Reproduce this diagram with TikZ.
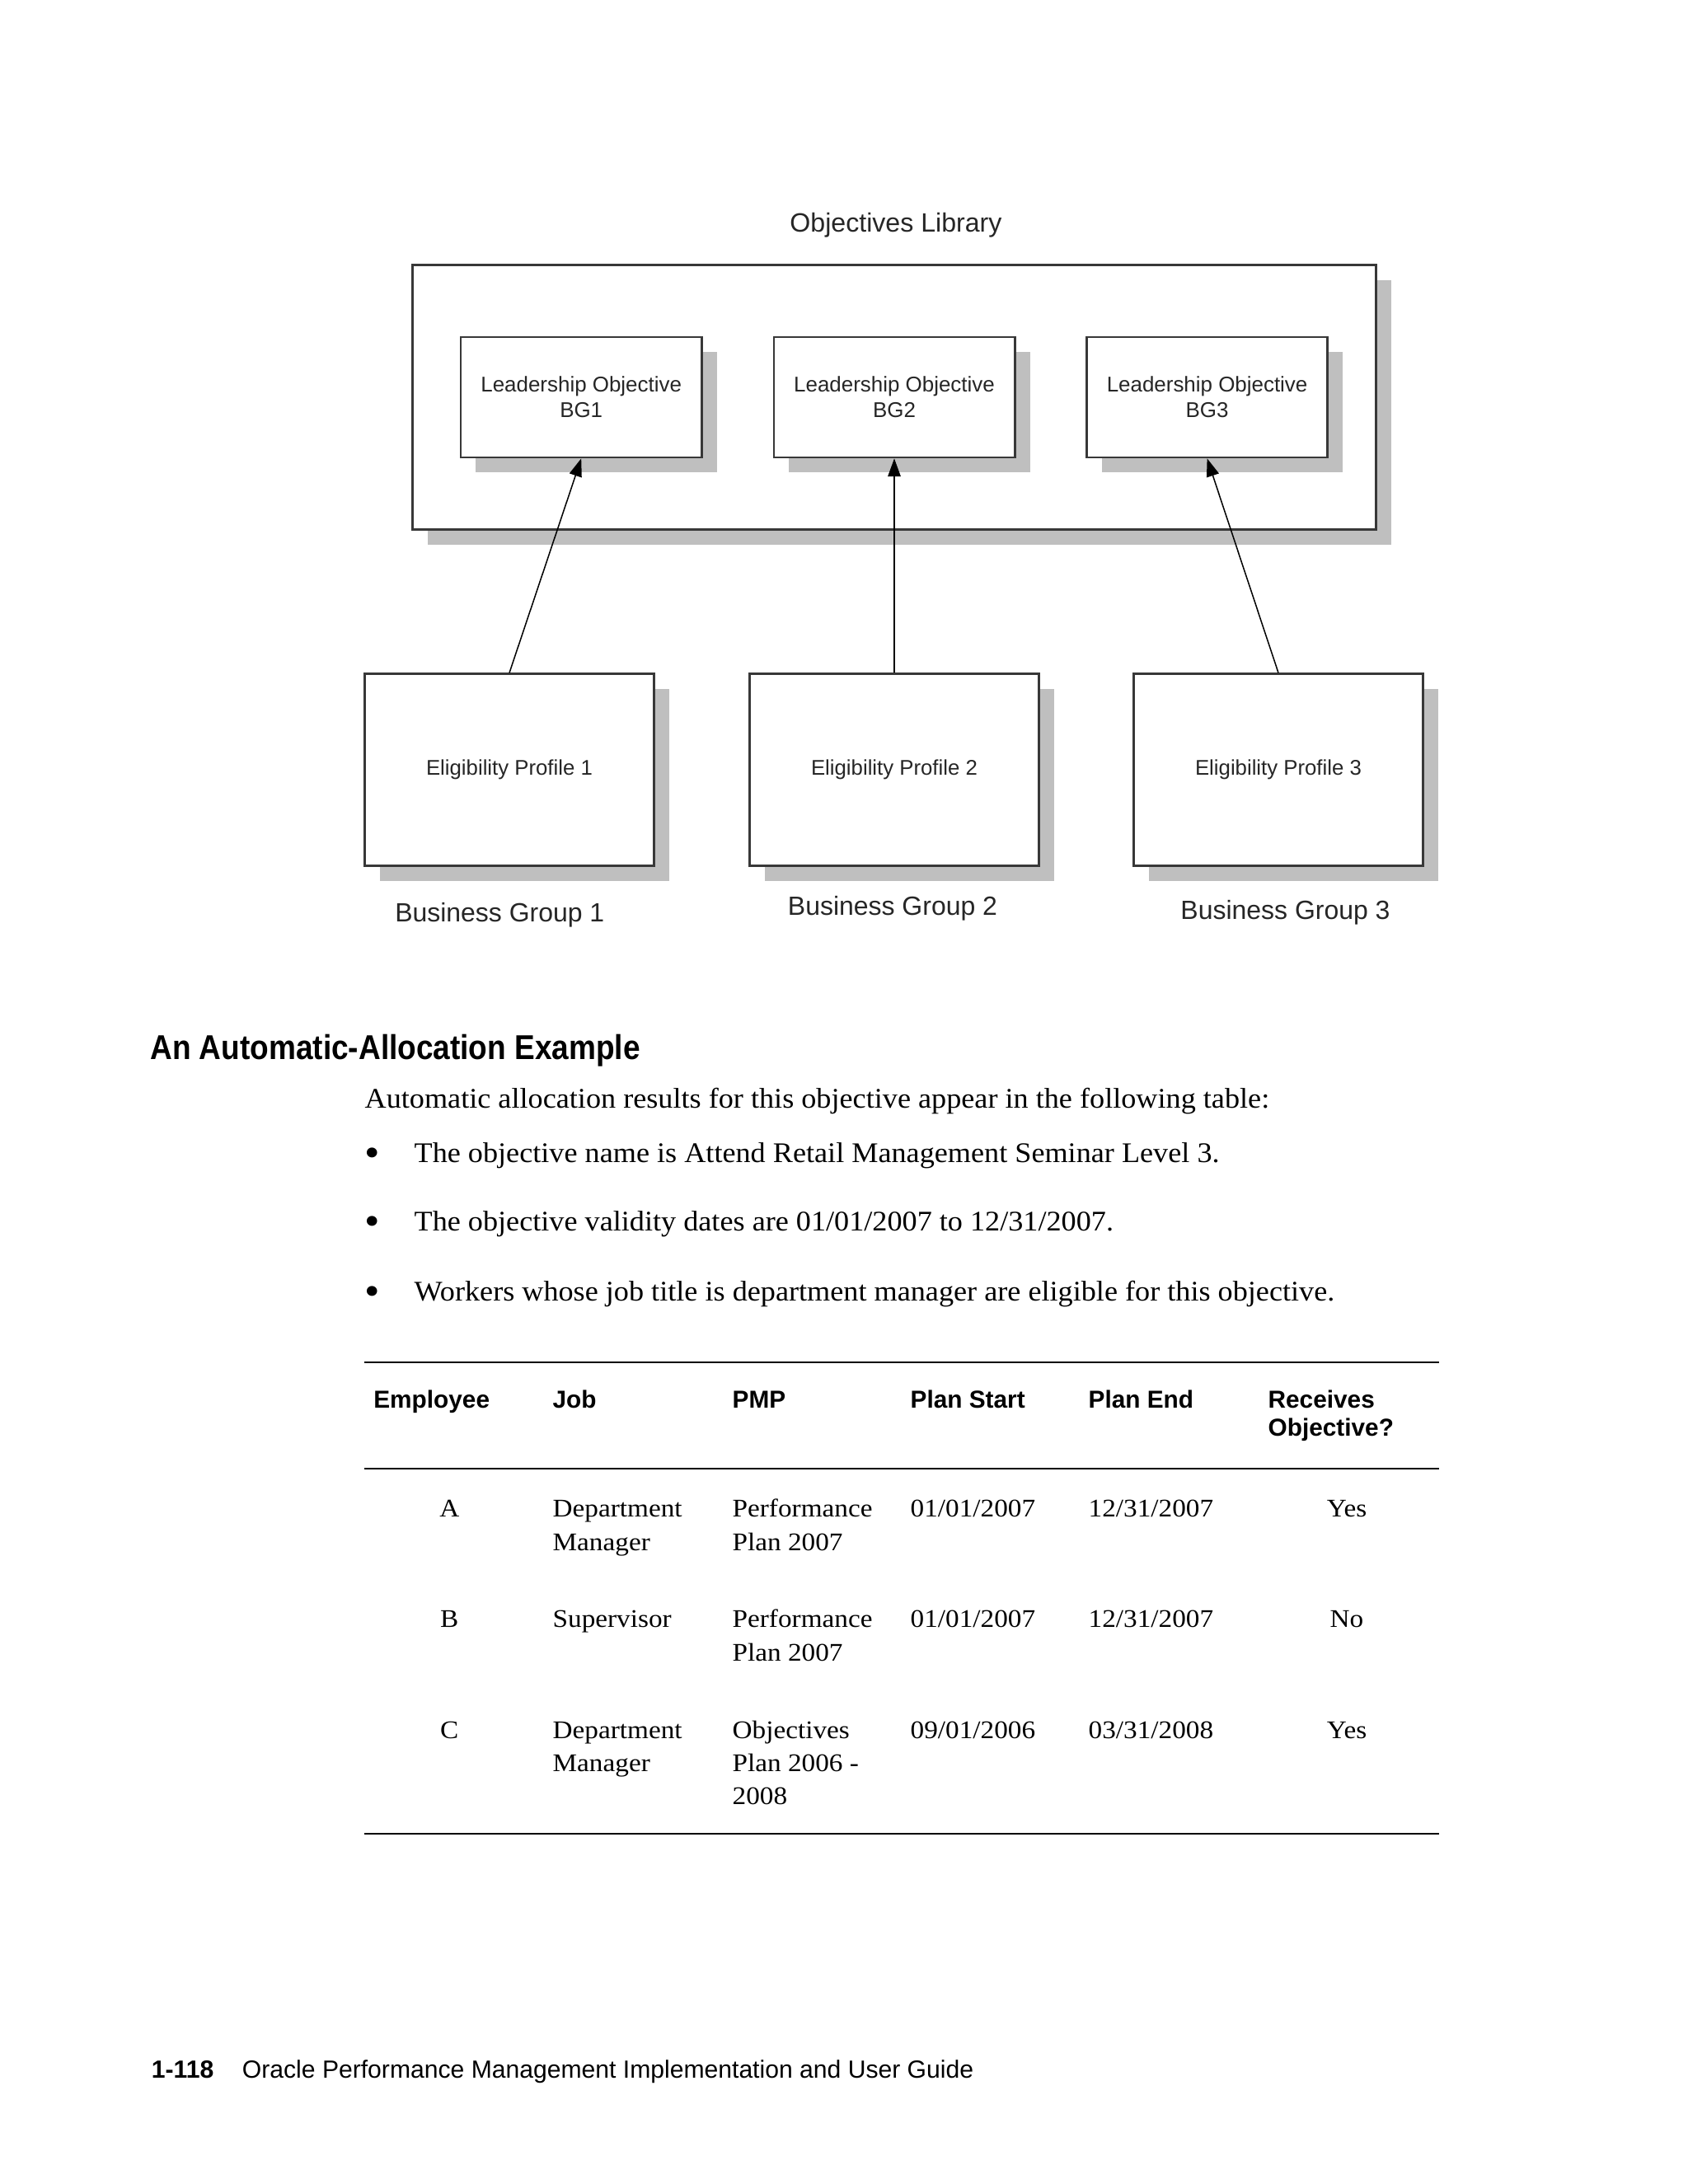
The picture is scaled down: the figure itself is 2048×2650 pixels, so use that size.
\documentclass[tikz,border=0pt]{standalone}
\usepackage{fontspec}
\setmainfont{Liberation Serif}
\newfontfamily\arialf{Liberation Sans}
\newfontfamily\headf{Liberation Sans}[FakeStretch=0.885]
\newfontfamily\bodyf{Liberation Serif}[FakeStretch=1.05]
\newfontfamily\tabf{Liberation Serif}[FakeStretch=1.08]
\usetikzlibrary{arrows.meta,shadows}
\begin{document}
\begin{tikzpicture}[x=0.298828pt,y=-0.298828pt,
  shbox/.style={draw=black!78, line width=0.8pt, fill=white, inner sep=0pt, align=center, text=black!85,
    drop shadow={fill=black!25, opacity=1, shadow xshift=5.5pt, shadow yshift=-5.5pt}},
  lbox/.style={shbox, minimum width=87.35pt, minimum height=43.6pt, font=\arialf\fontsize{7.75}{9.2}\selectfont},
  ebox/.style={shbox, minimum width=104.8pt, minimum height=69.6pt, font=\arialf\fontsize{7.7}{9.2}\selectfont},
  obox/.style={shbox, minimum width=349.2pt, minimum height=95.8pt},
  dlabel/.style={anchor=base, inner sep=0pt, text=black!85, font=\arialf\fontsize{9.55}{11}\selectfont},
  arr/.style={-{Triangle[length=6.5pt,width=4.6pt]}, line width=0.45pt, black},
  body/.style={anchor=base west, inner sep=0pt, font=\bodyf\fontsize{10.3}{12.4}\selectfont},
  bul/.style={anchor=base, inner sep=0pt, font=\bodyf\fontsize{15}{16}\selectfont},
  th/.style={anchor=base west, inner sep=0pt, font=\arialf\bfseries\fontsize{8.9}{10.2}\selectfont},
  td/.style={anchor=base west, inner sep=0pt, font=\tabf\fontsize{9.2}{12}\selectfont},
  tdc/.style={td, anchor=base},
  tabrule/.style={line width=0.55pt, black},
  foot/.style={anchor=base west, inner sep=0pt, font=\arialf\fontsize{9}{11}\selectfont}]

\fill[white] (0,0) rectangle (2048,2650);
\useasboundingbox (0,0) rectangle (2048,2650);

% ---------- diagram ----------
\node[dlabel, font=\arialf\fontsize{9.6}{11}\selectfont] (title) at (1087,281.7) {Objectives Library};
\node[obox] (lib) at (1085,482) {};
\node[lbox] (b1) at (705.2,482) {Leadership Objective\\BG1};
\node[lbox] (b2) at (1085,482) {Leadership Objective\\BG2};
\node[lbox] (b3) at (1464.6,482) {Leadership Objective\\BG3};

\node[ebox] (e1) at (618,934.2) {Eligibility Profile 1};
\node[ebox] (e2) at (1085,934.2) {Eligibility Profile 2};
\node[ebox] (e3) at (1551,934.2) {Eligibility Profile 3};

\draw[arr] (e1.north) -- (b1.south);
\draw[arr] (e2.north) -- (b2.south);
\draw[arr] (e3.north) -- (b3.south);

\node[dlabel] (g1) at (606.3,1118.3) {Business Group 1};
\node[dlabel] (g2) at (1083,1110) {Business Group 2};
\node[dlabel] (g3) at (1559.5,1115) {Business Group 3};

% ---------- text ----------
\node[anchor=base west, inner sep=0pt, font=\headf\bfseries\fontsize{12.5}{15}\selectfont] (head) at (181.7,1285) {An Automatic-Allocation Example};
\node[body] (intro) at (442,1344) {Automatic allocation results for this objective appear in the following table:};
\node[bul] (bu1) at (451.7,1415.5) {\textbullet};
\node[body] (l1) at (502,1410) {The objective name is Attend Retail Management Seminar Level 3.};
\node[bul] (bu2) at (451.7,1498.8) {\textbullet};
\node[body] (l2) at (502,1493.3) {The objective validity dates are 01/01/2007 to 12/31/2007.};
\node[bul] (bu3) at (451.7,1583.8) {\textbullet};
\node[body] (l3) at (502,1578.3) {Workers whose job title is department manager are eligible for this objective.};

% ---------- table ----------
\draw[tabrule] (441.7,1653.3) -- (1746,1653.3);
\draw[tabrule] (441.7,1781.7) -- (1746,1781.7);
\draw[tabrule] (441.7,2225) -- (1746,2225);

\node[th] (h1) at (452.7,1708.3) {Employee};
\node[th] (h2) at (670,1708.3) {Job};
\node[th] (h3) at (888,1708.3) {PMP};
\node[th] (h4) at (1104,1708.3) {Plan Start};
\node[th] (h5) at (1320,1708.3) {Plan End};
\node[th] (h6) at (1538,1708.3) {Receives};
\node[th] (h6b) at (1538,1742) {Objective?};

\node[tdc] (a1) at (545.3,1840.6) {A};
\node[td] (a2) at (670,1840.6) {Department};
\node[td] (a2b) at (670,1881.5) {Manager};
\node[td] (a3) at (888,1840.6) {Performance};
\node[td] (a3b) at (888,1881.5) {Plan 2007};
\node[td] (a4) at (1104,1840.6) {01/01/2007};
\node[td] (a5) at (1320,1840.6) {12/31/2007};
\node[tdc] (a6) at (1634,1840.6) {Yes};

\node[tdc] (r1) at (545.3,1974.2) {B};
\node[td] (r2) at (670,1974.2) {Supervisor};
\node[td] (r3) at (888,1974.2) {Performance};
\node[td] (r3b) at (888,2015) {Plan 2007};
\node[td] (r4) at (1104,1974.2) {01/01/2007};
\node[td] (r5) at (1320,1974.2) {12/31/2007};
\node[tdc] (r6) at (1634,1974.2) {No};

\node[tdc] (c1) at (545.3,2109.3) {C};
\node[td] (c2) at (670,2109.3) {Department};
\node[td] (c2b) at (670,2149.8) {Manager};
\node[td] (c3) at (888,2109.3) {Objectives};
\node[td] (c3b) at (888,2149.8) {Plan 2006 -};
\node[td] (c3c) at (888,2189.5) {2008};
\node[td] (c4) at (1104,2109.3) {09/01/2006};
\node[td] (c5) at (1320,2109.3) {03/31/2008};
\node[tdc] (c6) at (1634,2109.3) {Yes};

% ---------- footer ----------
\node[foot, font=\arialf\bfseries\fontsize{9}{11}\selectfont] (pg) at (183.3,2521) {1-118};
\node[foot] (ft) at (293.3,2521) {Oracle Performance Management Implementation and User Guide};
\end{tikzpicture}
\end{document}
